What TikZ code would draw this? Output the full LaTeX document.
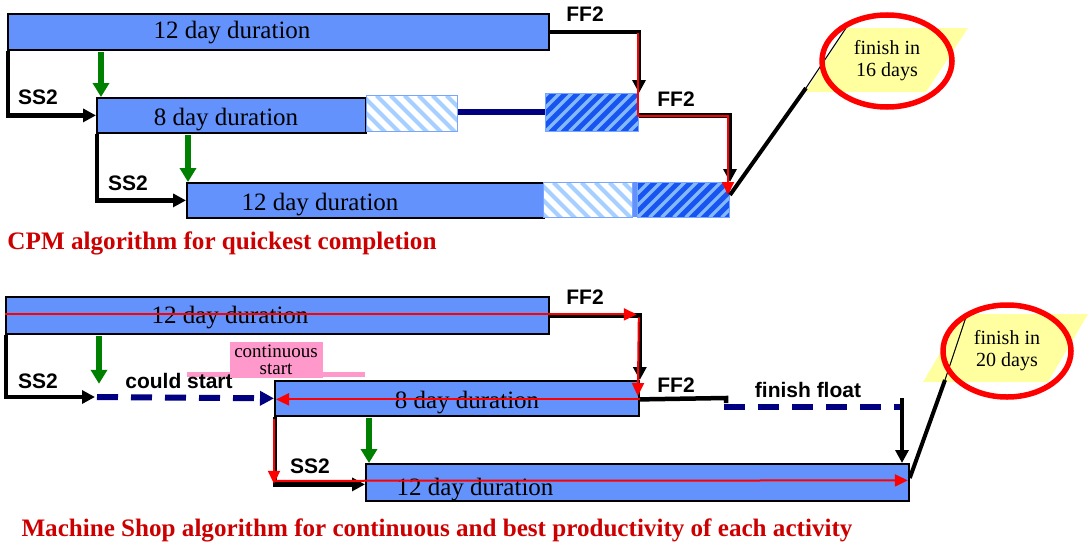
\documentclass[tikz,border=0pt]{standalone}
\usepackage{fontspec}
\setmainfont{Liberation Serif}
\newfontfamily\lblfont{Liberation Sans}
\usetikzlibrary{arrows.meta,shapes.geometric,calc}
\definecolor{barblue}{RGB}{99,146,252}
\definecolor{hatchdark}{RGB}{24,84,240}
\definecolor{stripedk}{RGB}{130,185,255}
\definecolor{stripelt}{RGB}{165,208,255}
\definecolor{hatchedge}{RGB}{120,165,255}
\definecolor{navy}{RGB}{0,0,128}
\definecolor{dgreen}{RGB}{0,128,0}
\definecolor{pinkbox}{RGB}{255,153,204}
\definecolor{paleyellow}{RGB}{255,255,160}
\definecolor{capred}{RGB}{204,0,0}
\begin{document}
\begin{tikzpicture}[x=1pt,y=-1pt,
  bar/.style={draw=black, line width=1.8pt, fill=barblue, inner sep=0pt, anchor=north west},
  bartext/.style={font=\fontsize{25}{25}\selectfont, inner sep=0pt},
  hatchD/.style={fill=hatchdark, draw=hatchedge, line width=1pt, inner sep=0pt, anchor=north west,
    path picture={\foreach \k in {-60,-48,...,120}{\draw[stripedk, line width=3.2pt] ($(path picture bounding box.south west)+(\k,0)$) -- ++(70,-70);}}},
  hatchL/.style={fill=white, draw=hatchedge, line width=1pt, inner sep=0pt, anchor=north west,
    path picture={\foreach \k in {-60,-46,...,120}{\draw[stripelt, line width=4pt] ($(path picture bounding box.north west)+(\k,0)$) -- ++(70,70);}}},
  conn/.style={draw=black, line width=4.5pt, -{Triangle[length=13pt,width=13pt]}},
  plainconn/.style={draw=black, line width=4.5pt},
  redarr/.style={draw=red, line width=2pt, -{Triangle[length=13pt,width=12pt]}},
  garr/.style={draw=dgreen, line width=5.5pt, -{Triangle[length=14pt,width=16pt]}},
  navyln/.style={draw=navy, line width=6pt},
  navyd/.style={draw=navy, line width=6pt, dash pattern=on 21pt off 13pt},
  lbl/.style={font=\lblfont\bfseries\fontsize{21}{21}\selectfont, inner sep=0pt},
  callout/.style={ellipse, draw=red, line width=5.5pt, inner sep=0pt, align=center, font=\fontsize{20}{22}\selectfont},
  captext/.style={text=capred, font=\bfseries\fontsize{24}{24}\selectfont, inner sep=0pt}
]
\path[use as bounding box] (0,0) rectangle (1089,546);

% ---------------- top: CPM ----------------
\node[bar, minimum width=541pt, minimum height=36pt] (A1) at (7,13) {};
\node[bartext] (A1t) at (232,33) {12 day duration};
\node[bar, minimum width=269pt, minimum height=35pt] (A2) at (96,97) {};
\node[bartext] (A2t) at (226,120) {8 day duration};
\node[hatchL, minimum width=91pt, minimum height=36pt] (L2) at (366,95) {};
\node[hatchD, minimum width=93pt, minimum height=38pt] (D2) at (545,93) {};
\draw[navyln] ($(L2.east)+(0,-2)$) -- ($(D2.west)+(0,-1)$);

\node[fill=barblue, inner sep=0pt, anchor=north west, minimum width=94pt, minimum height=35pt] (S3) at (543,182) {};
\node[bar, minimum width=357pt, minimum height=35pt] (B3) at (186,182) {};
\node[bartext] (B3t) at (320,205) {12 day duration};
\node[hatchL, minimum width=89pt, minimum height=35pt] (L3) at (543,182) {};
\node[hatchD, minimum width=92pt, minimum height=35pt] (D3) at (637,182) {};

% SS2 links
\draw[conn] ($(A1.south west)+(1,0)$) |- (A2.west);
\node[lbl] (ss1) at (38,97) {SS2};
\draw[garr] ($(A2.north west |- A1.south)+(5,1)$) -- ($(A2.north west)+(5,0)$);
\draw[conn] ($(A2.south west)+(1,0)$) |- (B3.west);
\node[lbl] (ss2) at (128,183) {SS2};
\draw[garr] ($(B3.north west |- A2.south)+(2,1)$) -- ($(B3.north west)+(2,0)$);

% FF2 links
\coordinate (F2) at ($(D2.east)+(0,3)$);
\draw[conn] (A1.east) -| (D2.north east);
\draw[conn] (F2) -| (D3.north east);
\draw[redarr] ($(D2.north east |- A1.east)+(-1,1)$) -- ($(F2)+(-1,0)$) -| ($(D3.north east)+(-2,13)$);
\node[lbl] (ff1) at (585,14) {FF2};
\node[lbl] (ff2) at (676,99) {FF2};

% callout 1
\fill[paleyellow] (847,28) -- (968,28) -- (926,92) -- (805,92) -- cycle;
\coordinate (K1) at (806,88);
\coordinate (T1) at (846,28);
\draw[black, line width=4pt] ($(D3.north east)+(0,13)$) -- (K1);
\draw[black, line width=1pt] (K1) -- (T1);
\node[callout, minimum width=130pt, minimum height=92pt] (C1) at (887,61) {finish in\\16 days};

\node[captext] (cap1) at (222,243) {\resizebox{429pt}{!}{CPM algorithm for quickest completion}};

% ---------------- bottom: Machine Shop ----------------
\node[bar, minimum width=543pt, minimum height=37pt] (BA) at (5,296) {};
\node[bartext] (BAt) at (230,318) {12 day duration};
\node[bar, minimum width=364pt, minimum height=35pt] (BB) at (274,380) {};
\node[bartext] (BBt) at (467,403) {8 day duration};
\node[bar, minimum width=543pt, minimum height=37pt] (BC) at (365,463) {};
\node[bartext] (BCt) at (475,490) {12 day duration};

% FF2 from BA to BB
\draw[conn] (BA.east) -| (BB.north east);
\draw[redarr] ($(BA.west)+(0,-1)$) -- ($(BA.east)+(87,-1)$);
\draw[redarr] ($(BB.north east |- BA.east)+(-1,2)$) -- ($(BB.north east)+(-2,16)$);
\node[lbl] (ff3) at (585,297) {FF2};

% red line back along BB
\draw[redarr] ($(BB.east)+(0,1)$) -- ($(BB.west)+(2,1)$);

% SS2 from BA to could-start
\coordinate (CS) at (95,397);
\draw[conn] ($(BA.south west)+(1,0)$) |- (CS);
\node[lbl] (ss3) at (38,381) {SS2};
\draw[garr] ($(BA.south west)+(94,1)$) -- ($(BA.south west)+(94,49)$);
\draw[navyd, -{Triangle[length=14pt,width=14pt]}] ($(CS)+(2,0)$) -- (BB.west);

% could start / continuous start
\fill[pinkbox] (187,372) rectangle (365,377);
\node[lbl] (cst) at (179,381) {could start};
\node[fill=pinkbox, inner sep=0pt, minimum width=93pt, minimum height=36pt, align=center,
      font=\fontsize{19}{17}\selectfont] (P) at (276,360) {continuous\\start};

% FF2 from BB to BC with finish float
\coordinate (FE) at (726,398);
\coordinate (FV) at (902,398);
\draw[plainconn] ($(BB.east)+(0,1)$) -- (FE) -- ++(0,5);
\draw[navyd] ($(FE)+(-2,9)$) -- ($(FV)+(2,9)$);
\draw[conn] (FV) -- (FV |- BC.north);
\node[lbl] (ff4) at (676,385) {FF2};
\node[lbl] (ffl) at (808,390) {finish float};

% SS2 from BB to BC
\draw[conn] ($(BB.south west)+(1,0)$) |- ($(BC.west)+(0,2)$);
\draw[redarr] ($(BB.south west)+(0,2)$) -- ($(BB.south west)+(0,67)$);
\draw[redarr] ($(BB.south west)+(0,64)$) -- ($(BC.east)+(-2,-2)$);
\node[lbl] (ss4) at (310,466) {SS2};
\draw[garr] ($(BC.north west |- BB.south)+(4,1)$) -- ($(BC.north west)+(4,0)$);

% callout 2
\fill[paleyellow] (963,314) -- (1088,314) -- (1048,382) -- (923,382) -- cycle;
\coordinate (K2) at (945,380);
\coordinate (T2) at (966,317);
\draw[black, line width=4pt] ($(BC.north east)+(0,15)$) -- (K2);
\draw[black, line width=1pt] (K2) -- (T2);
\node[callout, minimum width=128pt, minimum height=92pt] (C2) at (1007,351) {finish in\\20 days};

\node[captext] (cap2) at (437,530) {\resizebox{831pt}{!}{Machine Shop algorithm for continuous and best productivity of each activity}};
\end{tikzpicture}
\end{document}
